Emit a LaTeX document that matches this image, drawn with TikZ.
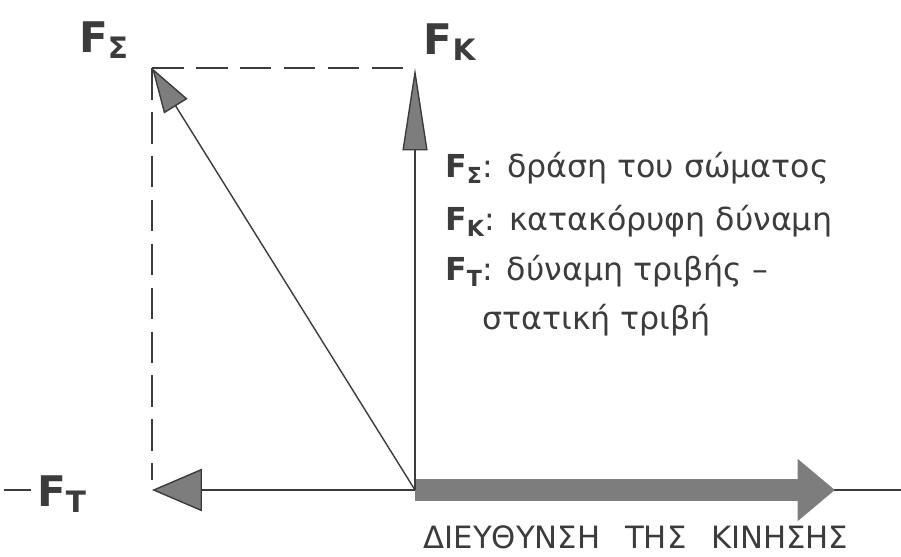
\documentclass[tikz,border=0pt]{standalone}
\usepackage{fontspec}
\setmainfont{DejaVu Sans}
\usepackage{xcolor}
\usetikzlibrary{arrows.meta,positioning,calc}
\definecolor{pencil}{RGB}{60,60,60}
\definecolor{shade}{RGB}{125,125,125}

\begin{document}
\begin{tikzpicture}[
  x=0.02cm, y=-0.02cm,
  force/.style={draw=pencil, line width=0.8pt},
  helper/.style={draw=pencil, line width=1pt, dash pattern=on 18pt off 7pt},
  tip/.style={-{Triangle[#1, fill=shade]}},
  motion/.style={draw=shade, line width=0.44cm,
                 -{Triangle[length=0.75cm, width=1.2cm, fill=shade]}},
  flabel/.style={text=pencil, font=\fontsize{24}{26}\selectfont\bfseries, inner sep=0pt},
  legend/.style={text=pencil, font=\fontsize{18}{20}\selectfont, anchor=west, inner sep=0pt}
]
\useasboundingbox (0,0) rectangle (901,556);
% points of the force diagram
\coordinate (O) at (415,490);
\coordinate (S) at (152,68);
\coordinate (K) at (415,68);
\coordinate (T) at (152,490);
\coordinate (L) at (4,490);
\coordinate (R) at (901,490);
\coordinate (M) at (835,490);
% labels
\node[flabel] (fs) at (104,40) {F\textsubscript{Σ}};
\node[flabel] (fk) at (450,42) {F\textsubscript{K}};
\node[flabel] (ft) at (62,494) {F\textsubscript{T}};
\node[legend] (leg1) at (445,168) {\textbf{F\textsubscript{Σ}}: δράση του σώματος};
\node[legend] (leg2) at (445,221) {\textbf{F\textsubscript{K}}: κατακόρυφη δύναμη};
\node[legend] (leg3) at (445,271) {\textbf{F\textsubscript{T}}: δύναμη τριβής –};
\node[legend] (leg4) at (482,320) {στατική τριβή};
\node[text=pencil, font=\fontsize{17.5}{19}\selectfont, inner sep=0pt] (dir) at (636,537)
  {ΔΙΕΥΘΥΝΣΗ\hspace{0.8em}ΤΗΣ\hspace{0.8em}ΚΙΝΗΣΗΣ};
% construction lines
\draw[helper] (S) -- (K);
\draw[helper] (S) -- ($(T)+(0,-10)$);
% axis
\draw[force] (L) -- ($(ft.west)+(-6,-4)$);
\draw[force] (O) -- (R);
\draw[motion] (O) -- (M);
% forces
\draw[force, tip={length=1.65cm, width=0.5cm}] (O) -- (K);
\draw[force, tip={length=0.9cm, width=0.55cm}] (O) -- (S);
\draw[force, tip={length=1cm, width=0.85cm}] (O) -- (T);
\end{tikzpicture}
\end{document}
